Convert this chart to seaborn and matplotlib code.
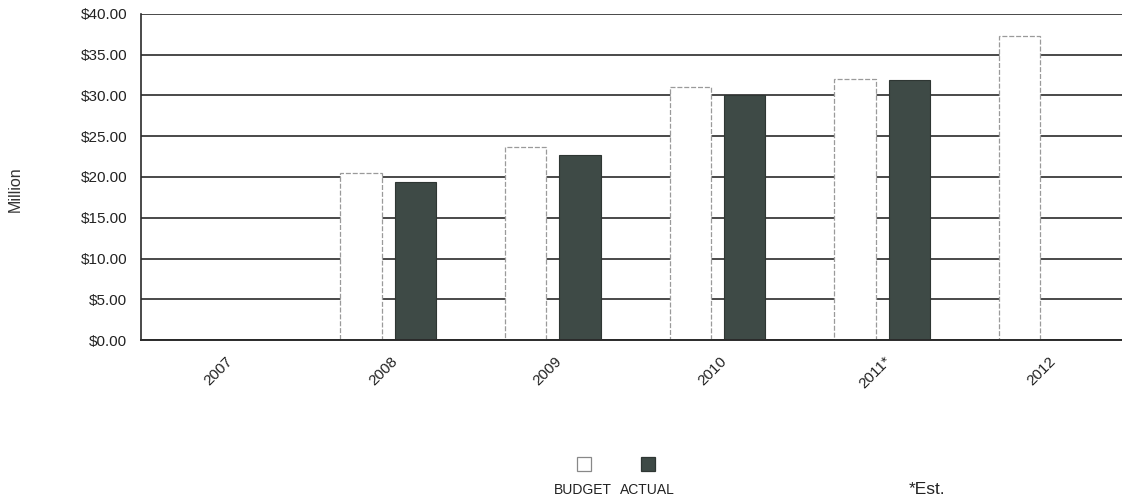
import numpy as np
import pandas as pd
import matplotlib
matplotlib.use("Agg")
import matplotlib.pyplot as plt
from matplotlib.patches import Rectangle
import matplotlib.transforms as mtransforms
import seaborn as sns

years = ["2007", "2008", "2009", "2010", "2011*", "2012"]
budget = [np.nan, 20.45, 23.7, 31.0, 32.0, 37.3]
actual = [np.nan, 19.4, 22.7, 30.1, 31.9, np.nan]
series = ["BUDGET", "ACTUAL"]
yticks = [0, 5, 10, 15, 20, 25, 30, 35, 40]

df = pd.DataFrame({
    "Year": years * 2,
    "Series": [series[0]] * len(years) + [series[1]] * len(years),
    "Value": budget + actual,
})

sns.set_style("white")
plt.rcParams["font.family"] = ["Liberation Sans", "DejaVu Sans"]

fig = plt.figure(figsize=(11.22, 4.99), dpi=100)
ax = fig.add_axes([0.1257, 0.3186, 0.8806, 0.6534])

face = {"BUDGET": "#ffffff", "ACTUAL": "#3e4a46"}
sns.barplot(data=df, x="Year", y="Value", hue="Series", order=years,
            hue_order=series, palette=face, width=0.66, gap=0.24,
            legend=False, ax=ax, saturation=1)

for bar in ax.patches:
    fc = bar.get_facecolor()
    if fc[0] > 0.9:
        bar.set_edgecolor("#9a9a9a")
        bar.set_linestyle((0, (4, 1.5)))
        bar.set_linewidth(0.9)
    else:
        bar.set_edgecolor("#2e3633")
        bar.set_linewidth(0.8)

ax.set_ylim(0, 40)
ax.set_xlim(-0.5, len(years) - 0.5)
ax.set_yticks(yticks)
ax.set_yticklabels([f"${v:.2f}" for v in yticks], fontsize=11, color="#222222")
ax.set_axisbelow(True)
ax.yaxis.grid(True, color="#2a2a2a", linewidth=1.2)
ax.xaxis.grid(False)
ax.tick_params(axis="both", length=0, pad=10)
ax.tick_params(axis="x", pad=10)
offset = mtransforms.ScaledTranslation(2 / 100, 0, fig.dpi_scale_trans)
for lbl in ax.get_xticklabels():
    lbl.set_rotation(45)
    lbl.set_ha("right")
    lbl.set_rotation_mode("anchor")
    lbl.set_fontsize(11)
    lbl.set_color("#222222")
    lbl.set_transform(lbl.get_transform() + offset)
ax.set_xlabel("")
ax.set_ylabel("")
for s in ["top", "right"]:
    ax.spines[s].set_visible(False)
ax.spines["left"].set_color("#2a2a2a")
ax.spines["left"].set_linewidth(1.2)
ax.spines["bottom"].set_color("#2a2a2a")
ax.spines["bottom"].set_linewidth(1.4)

fig.text(0.0134, 0.62, "Million", rotation=90, ha="center", va="center",
         fontsize=11.5, color="#333333")

# legend (markers above labels)
W, H = 1122, 499
for name, cx in zip(series, [584, 648]):
    r = Rectangle(((cx - 7) / W, 1 - 471 / H), 14 / W, 14 / H,
                  transform=fig.transFigure, facecolor=face[name],
                  edgecolor="#888888" if name == "BUDGET" else "#2e3633",
                  linewidth=0.9)
    fig.add_artist(r)
fig.text(583 / W, 1 - 490 / H, "BUDGET", ha="center", va="center",
         fontsize=10, color="#222222")
fig.text(647 / W, 1 - 490 / H, "ACTUAL", ha="center", va="center",
         fontsize=10, color="#222222")
fig.text(927 / W, 1 - 490 / H, "*Est.", ha="center", va="center",
         fontsize=12.5, color="#222222")

fig.savefig("out.png", dpi=100, facecolor="white")
